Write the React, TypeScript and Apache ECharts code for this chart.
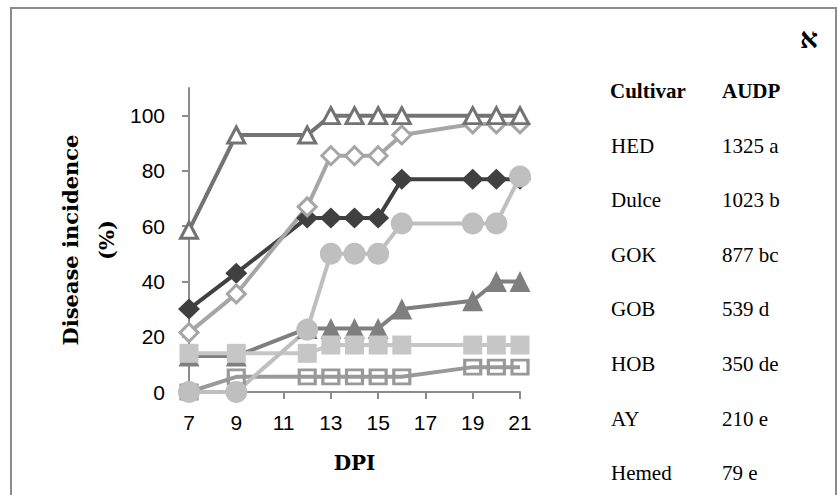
import React, { useEffect, useRef } from "react";
import * as echarts from "echarts";

const days = [7, 9, 12, 13, 14, 15, 16, 19, 20, 21];
const hed = [58.5, 93, 93, 100, 100, 100, 100, 100, 100, 100];
const dulce = [21.5, 35.5, 67, 85.5, 85.5, 85.5, 93, 97, 97, 97];
const gok = [30, 43, 63, 63, 63, 63, 77, 77, 77, 77];
const gob = [0, 0, 22.5, 50, 50, 50, 61, 61, 61, 78];
const hob = [13, 13, 23, 23, 23, 23, 30, 33, 40, 40];
const ay = [14, 14, 14, 17, 17, 17, 17, 17, 17, 17];
const hemed = [0, 5.5, 5.5, 5.5, 5.5, 5.5, 5.5, 9, 9, 9];

const xTicks = [7, 9, 11, 13, 15, 17, 19, 21];
const yTicks = [0, 20, 40, 60, 80, 100];

const cultivars = ["HED", "Dulce", "GOK", "GOB", "HOB", "AY", "Hemed"];
const audpc = ["1325 a", "1023 b", "877 bc", "539 d", "350 de", "210 e", "79 e"];

const pairs = (vals: number[]) => days.map((d, i) => [d, vals[i]]);

export default function App() {
  const ref = useRef<HTMLDivElement>(null);
  useEffect(() => {
    document.body.style.margin = "0";
    const chart = echarts.init(ref.current!, undefined, { renderer: "svg" });

    const mk = (
      name: string,
      vals: number[],
      symbol: string,
      size: number | number[],
      color: string,
      fill: string,
      border: number
    ) => ({
      name,
      type: "line",
      data: pairs(vals),
      symbol,
      symbolSize: size,
      showAllSymbol: true,
      lineStyle: { color, width: 4 },
      itemStyle: { color: fill, borderColor: color, borderWidth: border },
      emphasis: { disabled: true },
    });

    const serif = "DejaVu Serif";
    const rowY = (i: number) => 91 + 54.6 * i;
    const graphics: any[] = [
      {
        type: "rect",
        shape: { x: 11, y: 8, width: 825, height: 500 },
        style: { fill: "none", stroke: "#8c8c8c", lineWidth: 2 },
        silent: true,
      },
      {
        type: "text",
        x: 809,
        y: 38,
        style: {
          text: "א",
          font: "bold 28px 'Liberation Serif'",
          fill: "#000",
          align: "center",
          verticalAlign: "middle",
        },
      },
      {
        type: "text",
        x: 610,
        y: rowY(0),
        style: { text: "Cultivar", font: "bold 21px 'Liberation Serif'", fill: "#000", verticalAlign: "middle" },
      },
      {
        type: "text",
        x: 722,
        y: rowY(0),
        style: { text: "AUDP", font: "bold 21px 'Liberation Serif'", fill: "#000", verticalAlign: "middle" },
      },
    ];
    cultivars.forEach((c, i) => {
      graphics.push({
        type: "text",
        x: 611,
        y: rowY(i + 1),
        style: { text: c, font: "21px 'Liberation Serif'", fill: "#000", verticalAlign: "middle" },
      });
      graphics.push({
        type: "text",
        x: 722,
        y: rowY(i + 1),
        style: { text: audpc[i], font: "21px 'Liberation Serif'", fill: "#000", verticalAlign: "middle" },
      });
    });

    const axisColor = "#8c8c8c";
    chart.setOption({
      animation: false,
      backgroundColor: "#fff",
      grid: { left: 189, right: 319, top: 88, bottom: 103 },
      xAxis: {
        type: "value",
        min: 7,
        max: 21,
        name: "DPI",
        nameLocation: "middle",
        nameGap: 61,
        nameTextStyle: { fontFamily: serif, fontWeight: "bold", fontSize: 20, color: "#000" },
        axisLine: { lineStyle: { color: axisColor, width: 2 } },
        axisTick: { show: true, length: 7, customValues: xTicks, lineStyle: { color: axisColor, width: 2 } },
        axisLabel: {
          customValues: xTicks,
          margin: 20,
          fontFamily: "Liberation Sans",
          fontSize: 21,
          color: "#000",
        },
        splitLine: { show: false },
      },
      yAxis: {
        type: "value",
        min: 0,
        max: 110,
        name: "Disease incidence\n(%)",
        nameLocation: "middle",
        nameRotate: 90,
        nameGap: 65,
        nameTextStyle: {
          fontFamily: serif,
          fontWeight: "bold",
          fontSize: 21,
          lineHeight: 36,
          color: "#000",
          align: "center",
        },
        axisLine: { show: true, lineStyle: { color: axisColor, width: 2 } },
        axisTick: { show: true, length: 7, customValues: yTicks, lineStyle: { color: axisColor, width: 2 } },
        axisLabel: {
          customValues: yTicks,
          margin: 24,
          fontFamily: "Liberation Sans",
          fontSize: 21,
          color: "#000",
        },
        splitLine: { show: false },
      },
      graphic: graphics,
      series: [
        mk("Hemed", hemed, "rect", [16, 14], "#999999", "rgba(0,0,0,0)", 3),
        mk("HOB", hob, "triangle", 21, "#7f7f7f", "#7f7f7f", 0),
        mk("AY", ay, "rect", 19, "#c6c6c6", "#c6c6c6", 0),
        mk("GOK", gok, "diamond", [22, 21], "#404040", "#404040", 0),
        mk("GOB", gob, "circle", 22, "#bfbfbf", "#bfbfbf", 0),
        mk("Dulce", dulce, "diamond", [18, 18], "#a6a6a6", "#ffffff", 3),
        mk("HED", hed, "triangle", [17, 16], "#737373", "#ffffff", 3),
      ],
    });
    return () => chart.dispose();
  }, []);
  return <div ref={ref} style={{ width: 839, height: 495 }} />;
}
